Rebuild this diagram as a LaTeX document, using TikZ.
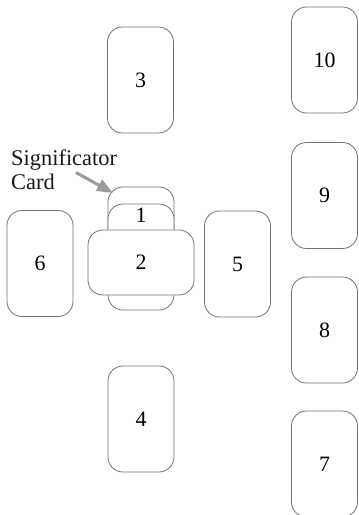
\documentclass[tikz,border=0pt]{standalone}
\usepackage{fontspec}
\setmainfont{Liberation Serif}
\usetikzlibrary{arrows.meta}
\begin{document}
\begin{tikzpicture}[x=1bp,y=-1bp,
  card/.style={draw=black!55, line width=0.8bp, fill=white, rounded corners=15bp,
    minimum width=66bp, minimum height=106bp, inner sep=0pt,
    font=\fontsize{22}{24}\selectfont},
  hcard/.style={card, minimum width=106bp, minimum height=65bp},
  lbl/.style={anchor=base west, inner sep=0pt, font=\fontsize{22.5}{24}\selectfont, text=black!90},
  pointer/.style={draw=black!40, line width=3bp, -{Triangle[width=12bp,length=16bp]}}]
\useasboundingbox (0,0) rectangle (358,515);
\clip (0,0) rectangle (358,515);
\node[card] (c3) at (140.5,80) {3};
\node[card] (c6) at (40,263.5) {6};
\node[card] (c5) at (237.5,264) {5};
\node[card] (c4) at (141,419) {4};
\node[card] (c10) at (324.5,60) {10};
\node[card] (c9) at (324.5,195.5) {9};
\node[card] (c8) at (324.5,330) {8};
\node[card] (c7) at (324.5,464) {7};
\node[card] (sig) at (141,240) {};
\node[card] (c1) at (141,257) {};
\node[font=\fontsize{22}{24}\selectfont, inner sep=0pt] (n1) at (141,215.5) {1};
\node[hcard] (c2) at (141,262.5) {2};
\node[lbl] (t1) at (11,166) {Significator};
\node[lbl] (t2) at (11,190) {Card};
\coordinate (astart) at (76,172.5);
\coordinate (atip) at (113,193);
\draw[pointer] (astart) -- (atip);
\end{tikzpicture}
\end{document}
